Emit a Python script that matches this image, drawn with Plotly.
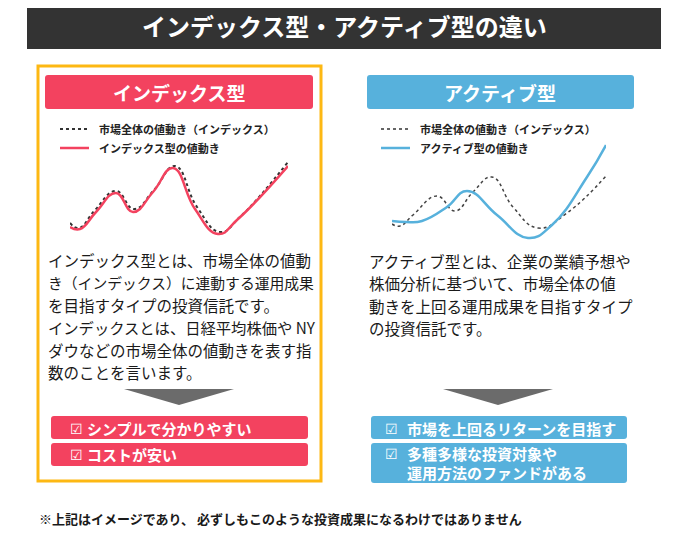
import plotly.graph_objects as go

# curve data: t = time step, v = value
idx_mkt_t = [0, 9, 25, 46, 64, 84, 105, 127, 150, 170, 218]
idx_mkt_v = [17, 12, 30, 49, 31, 50, 74, 33, 8, 23, 78]
idx_fund_t = [0, 10, 26, 46, 63, 83, 103, 125, 148, 168, 218]
idx_fund_v = [13, 11, 28, 47, 28, 48, 72, 31, 6, 21, 74]

act_mkt_t = [0, 8, 21, 45, 63, 81, 100, 121, 146, 175, 214]
act_mkt_v = [16, 14, 25, 44, 29, 48, 63, 33, 12, 27, 64]
act_fund_t = [0, 14, 30, 55, 75, 105, 136, 160, 195, 214]
act_fund_v = [19, 18, 19, 33, 49, 25, 2, 15, 63, 95]

title = "インデックス型・アクティブ型の違い"
heads = ["インデックス型", "アクティブ型"]
legend_mkt = "市場全体の値動き（インデックス）"
legend_fund = ["インデックス型の値動き", "アクティブ型の値動き"]
body_left = ["インデックス型とは、市場全体の値動",
             "き（インデックス）に連動する運用成果",
             "を目指すタイプの投資信託です。",
             "インデックスとは、日経平均株価や NY",
             "ダウなどの市場全体の値動きを表す指",
             "数のことを言います。"]
body_right = ["アクティブ型とは、企業の業績予想や",
              "株価分析に基づいて、市場全体の値",
              "動きを上回る運用成果を目指すタイプ",
              "の投資信託です。"]
points_left = ["シンプルで分かりやすい", "コストが安い"]
points_right = ["市場を上回るリターンを目指す", "多種多様な投資対象や", "運用方法のファンドがある"]
note = "※上記はイメージであり、 必ずしもこのような投資成果になるわけではありません"

# the page body has an 8px margin, so the figure starts at (8, 8) on screen
OFF = 8
W, H = 680 - OFF, 533 - OFF
PINK = "#F3425F"
BLUE = "#57B1DC"
GOLD = "#FDB813"
FONT = "Noto Sans CJK JP"

def px_(s):
    return (s - OFF) / W

def py(s):
    return 1 - (s - OFF) / H

def rrect(x0, y0, x1, y1, r=3):
    return (f"M{x0+r},{y0} L{x1-r},{y0} Q{x1},{y0} {x1},{y0+r} L{x1},{y1-r} Q{x1},{y1} {x1-r},{y1} "
            f"L{x0+r},{y1} Q{x0},{y1} {x0},{y1-r} L{x0},{y0+r} Q{x0},{y0} {x0+r},{y0} Z")

fig = go.Figure()

sm = 1.3
fig.add_trace(go.Scatter(x=idx_mkt_t, y=idx_mkt_v, mode="lines", line=dict(color="#333", width=2, dash="dot", shape="spline", smoothing=sm), xaxis="x2", yaxis="y2"))
fig.add_trace(go.Scatter(x=idx_fund_t, y=idx_fund_v, mode="lines", line=dict(color=PINK, width=2.5, shape="spline", smoothing=sm), xaxis="x2", yaxis="y2"))
fig.add_trace(go.Scatter(x=act_mkt_t, y=act_mkt_v, mode="lines", line=dict(color="#444", width=1.5, dash="dot", shape="spline", smoothing=sm), xaxis="x3", yaxis="y3"))
fig.add_trace(go.Scatter(x=act_fund_t, y=act_fund_v, mode="lines", line=dict(color=BLUE, width=2.5, shape="spline", smoothing=sm), xaxis="x3", yaxis="y3"))

shapes = []
ann = []

def box(path, fill):
    shapes.append(dict(type="path", path=path, xref="x", yref="y", fillcolor=fill,
                       line=dict(color=fill, width=0), layer="below"))

def txt(x, y, s, size, color="#222", bold=False, anchor="left"):
    ann.append(dict(x=x, y=y, xref="x", yref="y", text=f"<b>{s}</b>" if bold else s, showarrow=False,
                    xanchor=anchor, yanchor="middle", font=dict(family=FONT, size=size, color=color)))

# title bar
box(rrect(27, 0, 661, 49, 0), "#333333")
txt(344, 25, title, 24, "white", True, "center")

# yellow frame
shapes.append(dict(type="rect", xref="x", yref="y", x0=38, y0=66, x1=321, y1=481,
                   line=dict(color=GOLD, width=3), fillcolor="rgba(0,0,0,0)", layer="below"))

# headers
box(rrect(45, 75, 313, 109), PINK)
txt(179, 92, heads[0], 19, "white", True, "center")
box(rrect(367, 75, 634, 109), BLUE)
txt(500, 92, heads[1], 19, "white", True, "center")

# legends
for x0, col, lab, dw in [(60, PINK, legend_fund[0], 2), (381, BLUE, legend_fund[1], 1.5)]:
    shapes.append(dict(type="line", xref="x", yref="y", x0=x0, x1=x0 + 29, y0=129, y1=129,
                       line=dict(color="#333", width=dw, dash="dot")))
    shapes.append(dict(type="line", xref="x", yref="y", x0=x0, x1=x0 + 29, y0=148, y1=148,
                       line=dict(color=col, width=2.5)))
    txt(x0 + 37, 129, legend_mkt, 11, "#222", True)
    txt(x0 + 37, 148, lab, 11, "#222", True)

# body text (line 2 has more full-width brackets, so it is set a bit smaller)
left_sizes = [15.5, 14.8, 15.5, 15.3, 15.5, 15.5]
for i, s in enumerate(body_left):
    txt(46, 260 + i * 22.4, s, left_sizes[i], "#1a1a1a")
for i, s in enumerate(body_right):
    txt(367, 261 + i * 22.4, s, 15.5, "#1a1a1a")

# arrows
box("M124,389 L234,389 L179,405 Z", "#6b6b6b")
box("M443,389 L553,389 L498,405 Z", "#6b6b6b")

# point boxes
box(rrect(51, 416, 308, 439), PINK)
box(rrect(51, 443, 308, 466), PINK)
for y, s in zip([428, 454], points_left):
    txt(68, y, "☑", 14, "white")
    txt(85, y, s, 15, "white", True)

box(rrect(371, 416, 627, 439), BLUE)
box(rrect(371, 443, 627, 483), BLUE)
txt(383, 428, "☑", 14, "white")
txt(405, 428, points_right[0], 15, "white", True)
txt(383, 453, "☑", 14, "white")
txt(405, 453, points_right[1], 15, "white", True)
txt(405, 472, points_right[2], 15, "white", True)

# footnote
txt(37, 518, note, 13, "#1a1a1a", True)

hid = dict(visible=False, showgrid=False, zeroline=False, fixedrange=True)
fig.update_layout(
    width=W, height=H, margin=dict(l=0, r=0, t=0, b=0),
    paper_bgcolor="white", plot_bgcolor="white", showlegend=False,
    xaxis=dict(range=[OFF, 680], domain=[0, 1], **hid),
    yaxis=dict(range=[533, OFF], domain=[0, 1], **hid),
    xaxis2=dict(range=[0, 218], domain=[px_(70), px_(288)], anchor="y2", **hid),
    yaxis2=dict(range=[0, 100], domain=[py(240), py(140)], anchor="x2", **hid),
    xaxis3=dict(range=[0, 214], domain=[px_(392), px_(606)], anchor="y3", **hid),
    yaxis3=dict(range=[0, 100], domain=[py(240), py(140)], anchor="x3", **hid),
    shapes=shapes, annotations=ann,
)

fig.write_html("out.html")
